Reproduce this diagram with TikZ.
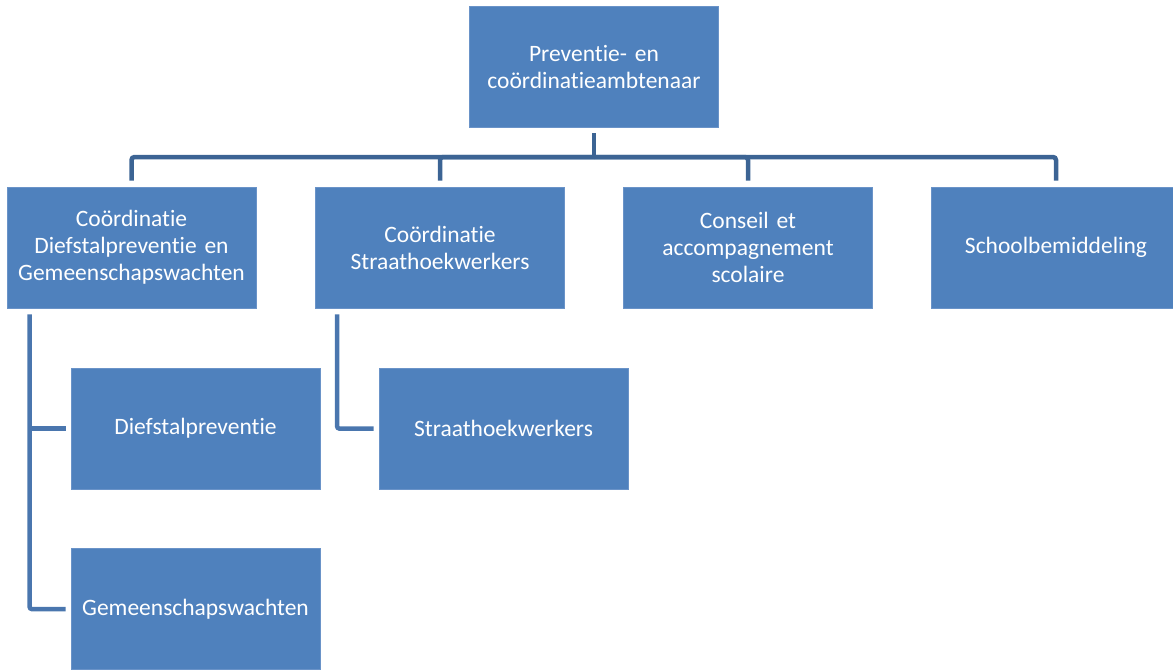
\documentclass[tikz,border=0pt]{standalone}
\usepackage{fontspec}
\setmainfont{Carlito}[Ligatures=NoCommon]
\definecolor{boxblue}{HTML}{4F81BD}
\definecolor{boxedge}{HTML}{6A93C8}
\definecolor{linedark}{HTML}{3C6494}
\definecolor{linemid}{HTML}{4A76AE}
\begin{document}
\begin{tikzpicture}[x=1pt,y=-1pt,
  box/.style={rectangle, fill=boxblue, draw=boxedge, line width=0.6pt,
    minimum width=249pt, minimum height=121pt, inner sep=2pt,
    text=white, align=center, text width=245pt,
    font=\fontsize{23.5}{27}\selectfont},
  conn/.style={draw=linedark, line width=4.5pt, rounded corners=3pt},
  subconn/.style={draw=linemid, line width=4.5pt, rounded corners=2pt}]
\useasboundingbox (0,0) rectangle (1173,670);
\clip (0,0) rectangle (1173,670);
\node[box] (top) at (594,66.5) {Preventie- en\\coördinatieambtenaar};
\node[box] (c1) at (131.5,247.5) {Coördinatie\\Diefstalpreventie en\\Gemeenschapswachten};
\node[box] (c2) at (440,247.5) {Coördinatie\\Straathoekwerkers};
\node[box] (c3) at (748,247.5) {Conseil et\\accompagnement\\scolaire};
\node[box] (c4) at (1056,247.5) {Schoolbemiddeling};
\node[box] (d1) at (195.5,428.5) {Diefstalpreventie};
\node[box] (d2) at (503.5,428.5) {Straathoekwerkers};
\node[box] (d3) at (195.5,609) {Gemeenschapswachten};
\coordinate (bus) at (594,157);
\draw[conn, shorten <=6pt] (top.south) -- (top.south |- bus);
\foreach \c in {c1,c2,c3,c4}{
  \draw[conn, shorten >=6pt] (top.south |- bus) -| (\c.north);
}
\coordinate (l1) at ([xshift=23pt]c1.south west);
\coordinate (l2) at ([xshift=22pt]c2.south west);
\draw[subconn, shorten <=6pt, shorten >=5pt] (l1) |- (d3.west);
\draw[subconn, shorten >=5pt, rounded corners=0pt] (l1 |- d1.west) -- (d1.west);
\draw[subconn, shorten <=6pt, shorten >=5pt] (l2) |- (d2.west);
\end{tikzpicture}
\end{document}
